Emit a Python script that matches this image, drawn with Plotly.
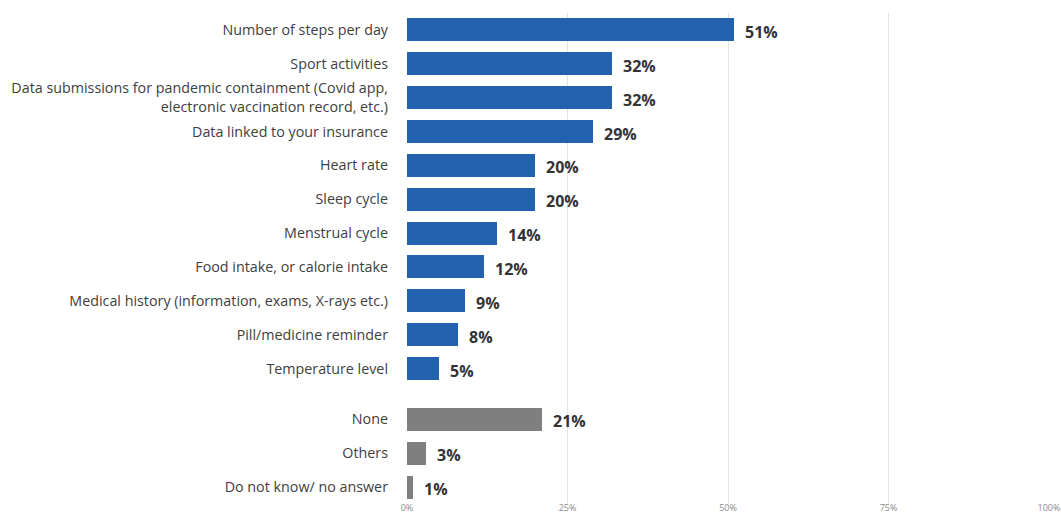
import plotly.graph_objects as go

# Shares of respondents, in percent
categories = [
    "Number of steps per day",
    "Sport activities",
    "Data submissions for pandemic containment (Covid app,<br>electronic vaccination record, etc.)",
    "Data linked to your insurance",
    "Heart rate",
    "Sleep cycle",
    "Menstrual cycle",
    "Food intake, or calorie intake",
    "Medical history (information, exams, X-rays etc.)",
    "Pill/medicine reminder",
    "Temperature level",
]
values = [51, 32, 32, 29, 20, 20, 14, 12, 9, 8, 5]

other_categories = ["None", "Others", "Do not know/ no answer"]
other_values = [21, 3, 1]

x_ticks = [0, 25, 50, 75, 100]
x_tick_labels = ["0%", "25%", "50%", "75%", "100%"]

BLUE = "#2161ad"
GREY = "#7f7f7f"
TEXT = "#404040"
FONT = "Open Sans"

# Row positions: main items, then a half-row gap before the grey group
pos_main = list(range(len(categories)))
pos_other = [len(categories) + 0.5 + i for i in range(len(other_categories))]

fig = go.Figure()
fig.add_trace(go.Bar(
    x=values, y=pos_main, orientation="h",
    marker=dict(color=BLUE, line=dict(width=0)),
    width=0.68, hoverinfo="skip",
))
fig.add_trace(go.Bar(
    x=other_values, y=pos_other, orientation="h",
    marker=dict(color=GREY, line=dict(width=0)),
    width=0.68, hoverinfo="skip",
))

for v, p in zip(values + other_values, pos_main + pos_other):
    fig.add_annotation(
        x=v, y=p, text=f"<b>{v}%</b>", showarrow=False,
        xanchor="left", yanchor="middle", xshift=9, yshift=-2,
        font=dict(family=FONT, size=16, color="#333333"),
    )

fig.update_layout(
    width=1061, height=515,
    margin=dict(l=407, r=12, t=13, b=11),
    paper_bgcolor="white", plot_bgcolor="white",
    showlegend=False,
    bargap=0,
    font=dict(family=FONT, color=TEXT),
    xaxis=dict(
        range=[0, 100], tickvals=x_ticks, ticktext=x_tick_labels,
        showgrid=True, gridcolor="#e3e3e3", gridwidth=1,
        zeroline=False, showline=False, ticks="", automargin=False,
        ticklabelstandoff=-3,
        tickfont=dict(family=FONT, size=9, color="#8a8a8a"),
    ),
    yaxis=dict(
        range=[pos_other[-1] + 0.5, -0.5],
        tickvals=pos_main + pos_other,
        ticktext=categories + other_categories,
        showgrid=False, zeroline=False, showline=False, ticks="",
        automargin=False, ticklabelstandoff=18,
        tickfont=dict(family=FONT, size=14.3, color=TEXT),
    ),
)

fig.write_html("out.html")
